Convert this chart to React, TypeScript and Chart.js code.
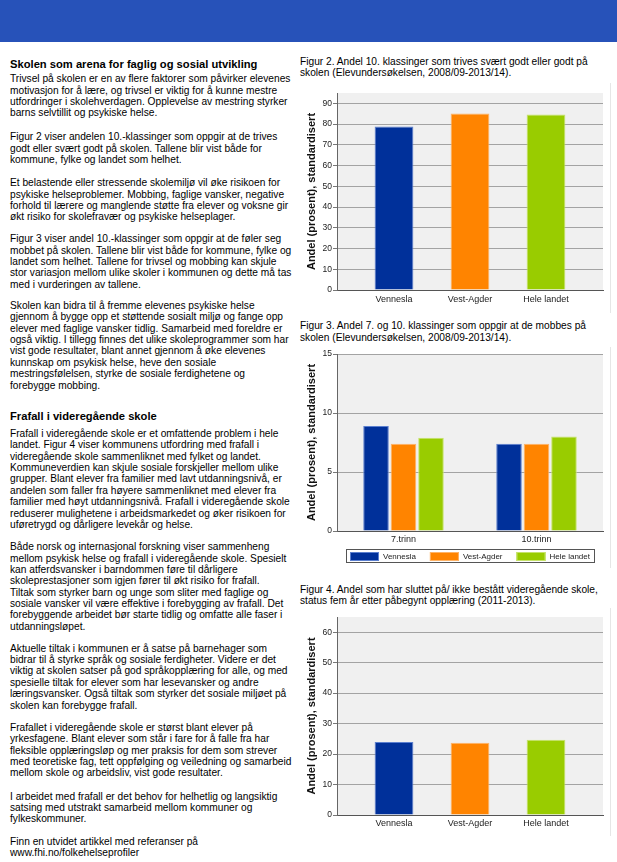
import React, { useEffect, useRef } from "react";
import { Chart, registerables } from "chart.js";

Chart.register(...registerables);

const FONT = '"Liberation Sans", Arial, Helvetica, sans-serif';

// ---------- chart data ----------
const regions = ["Vennesla", "Vest-Agder", "Hele landet"];
const trivsel = [78.8, 85.1, 84.6];
const trinn = ["7.trinn", "10.trinn"];
const mobbingVennesla = [8.9, 7.4];
const mobbingVestAgder = [7.4, 7.4];
const mobbingHeleLandet = [7.9, 8.0];
const frafall = [24.0, 23.7, 24.7];
const yTitle = "Andel (prosent), standardisert";

const fills = ["#00309a", "#ff8400", "#99cc00"];
const edges = ["#5b7fcf", "#ffb366", "#c6e36a"];

// ---------- text ----------
const fig2Caption = [
  "Figur 2. Andel 10. klassinger som trives svært godt eller godt på",
  "skolen (Elevundersøkelsen, 2008/09-2013/14).",
];
const fig3Caption = [
  "Figur 3. Andel 7. og 10. klassinger som oppgir at de mobbes på",
  "skolen (Elevundersøkelsen, 2008/09-2013/14).",
];
const fig4Caption = [
  "Figur 4. Andel som har sluttet på/ ikke bestått videregående skole,",
  "status fem år etter påbegynt opplæring (2011-2013).",
];

const heading1 = "Skolen som arena for faglig og sosial utvikling";
const heading2 = "Frafall i videregående skole";
const p1 = [
  "Trivsel på skolen er en av flere faktorer som påvirker elevenes",
  "motivasjon for å lære, og trivsel er viktig for å kunne mestre",
  "utfordringer i skolehverdagen. Opplevelse av mestring styrker",
  "barns selvtillit og psykiske helse.",
];
const p2 = [
  "Figur 2 viser andelen 10.-klassinger som oppgir at de trives",
  "godt eller svært godt på skolen. Tallene blir vist både for",
  "kommune, fylke og landet som helhet.",
];
const p3 = [
  "Et belastende eller stressende skolemiljø vil øke risikoen for",
  "psykiske helseproblemer. Mobbing, faglige vansker, negative",
  "forhold til lærere og manglende støtte fra elever og voksne gir",
  "økt risiko for skolefravær og psykiske helseplager.",
];
const p4 = [
  "Figur 3 viser andel 10.-klassinger som oppgir at de føler seg",
  "mobbet på skolen. Tallene blir vist både for kommune, fylke og",
  "landet som helhet. Tallene for trivsel og mobbing kan skjule",
  "stor variasjon mellom ulike skoler i kommunen og dette må tas",
  "med i vurderingen av tallene.",
];
const p5 = [
  "Skolen kan bidra til å fremme elevenes psykiske helse",
  "gjennom å bygge opp et støttende sosialt miljø og fange opp",
  "elever med faglige vansker tidlig. Samarbeid med foreldre er",
  "også viktig. I tillegg finnes det ulike skoleprogrammer som har",
  "vist gode resultater, blant annet gjennom å øke elevenes",
  "kunnskap om psykisk helse, heve den sosiale",
  "mestringsfølelsen, styrke de sosiale ferdighetene og",
  "forebygge mobbing.",
];
const p6 = [
  "Frafall i videregående skole er et omfattende problem i hele",
  "landet. Figur 4 viser kommunens utfordring med frafall i",
  "videregående skole sammenliknet med fylket og landet.",
  "Kommuneverdien kan skjule sosiale forskjeller mellom ulike",
  "grupper. Blant elever fra familier med lavt utdanningsnivå, er",
  "andelen som faller fra høyere sammenliknet med elever fra",
  "familier med høyt utdanningsnivå. Frafall i videregående skole",
  "reduserer mulighetene i arbeidsmarkedet og øker risikoen for",
  "uføretrygd og dårligere levekår og helse.",
];
const p7 = [
  "Både norsk og internasjonal forskning viser sammenheng",
  "mellom psykisk helse og frafall i videregående skole. Spesielt",
  "kan atferdsvansker i barndommen føre til dårligere",
  "skoleprestasjoner som igjen fører til økt risiko for frafall.",
  "Tiltak som styrker barn og unge som sliter med faglige og",
  "sosiale vansker vil være effektive i forebygging av frafall. Det",
  "forebyggende arbeidet bør starte tidlig og omfatte alle faser i",
  "utdanningsløpet.",
];
const p8 = [
  "Aktuelle tiltak i kommunen er å satse på barnehager som",
  "bidrar til å styrke språk og sosiale ferdigheter. Videre er det",
  "viktig at skolen satser på god språkopplæring for alle, og med",
  "spesielle tiltak for elever som har lesevansker og andre",
  "læringsvansker. Også tiltak som styrker det sosiale miljøet på",
  "skolen kan forebygge frafall.",
];
const p9 = [
  "Frafallet i videregående skole er størst blant elever på",
  "yrkesfagene. Blant elever som står i fare for å falle fra har",
  "fleksible opplæringsløp og mer praksis for dem som strever",
  "med teoretiske fag, tett oppfølging og veiledning og samarbeid",
  "mellom skole og arbeidsliv, vist gode resultater.",
];
const p10 = [
  "I arbeidet med frafall er det behov for helhetlig og langsiktig",
  "satsing med utstrakt samarbeid mellom kommuner og",
  "fylkeskommuner.",
];
const p11 = [
  "Finn en utvidet artikkel med referanser på",
  "www.fhi.no/folkehelseprofiler",
];

// ---------- plugins ----------
const plotBackground = {
  id: "plotBackground",
  beforeDraw(chart: any) {
    const { ctx, chartArea: a } = chart;
    ctx.save();
    ctx.fillStyle = "#f0f0f0";
    ctx.fillRect(a.left, a.top, a.right - a.left, a.bottom - a.top);
    ctx.restore();
  },
};

const boxedLegend = {
  id: "boxedLegend",
  afterDraw(chart: any) {
    const { ctx, chartArea: a } = chart;
    const items = chart.data.datasets.map((d: any) => ({
      text: d.label,
      fill: d.backgroundColor,
      stroke: d.borderColor,
    }));
    ctx.save();
    ctx.font = `8px ${FONT}`;
    const boxW = 29;
    const boxH = 9;
    const gap = 4;
    const pad = 14;
    const widths = items.map((it: any) => boxW + gap + ctx.measureText(it.text).width);
    const total = widths.reduce((s: number, w: number) => s + w, 0) + pad * (items.length - 1);
    let x = Math.round((a.left + a.right) / 2 - total / 2);
    const top = Math.round(a.bottom + 21);
    ctx.strokeStyle = "#555";
    ctx.lineWidth = 1;
    ctx.strokeRect(x - 4 + 0.5, top - 3 + 0.5, Math.round(total + 8), 13);
    items.forEach((it: any, i: number) => {
      ctx.fillStyle = it.fill;
      ctx.fillRect(x, top, boxW, boxH);
      ctx.strokeStyle = it.stroke;
      ctx.strokeRect(x + 0.5, top + 0.5, boxW - 1, boxH - 1);
      ctx.fillStyle = "#222";
      ctx.textBaseline = "middle";
      ctx.textAlign = "left";
      ctx.fillText(it.text, x + boxW + gap, top + boxH / 2 + 0.5);
      x += widths[i] + pad;
    });
    ctx.restore();
  },
};

// ---------- scale helpers ----------
function yScale(max: number, step: number) {
  return {
    min: 0,
    max,
    ticks: {
      stepSize: step,
      includeBounds: false,
      padding: 1,
      color: "#222",
      font: { family: FONT, size: 8.5 },
    },
    grid: { color: "#a3a3a3", tickColor: "#777", tickLength: 4, lineWidth: 1 },
    border: { display: true, color: "#666", width: 1 },
    title: {
      display: true,
      text: yTitle,
      color: "#111",
      font: { family: FONT, size: 11, weight: "bold" },
      padding: { top: 9, bottom: 0 },
    },
    afterFit: (s: any) => {
      s.width = 41;
    },
  };
}

function regionXScale(height: number, pad: number) {
  return {
    type: "linear",
    min: -0.75,
    max: 2.75,
    offset: false,
    bounds: "data",
    grace: 0,
    afterDataLimits: (s: any) => {
      s.min = -0.75;
      s.max = 2.75;
    },
    afterBuildTicks: (s: any) => {
      s.ticks = regions.map((_, i) => ({ value: i }));
    },
    ticks: {
      callback: (v: any) => regions[v] ?? "",
      padding: pad,
      color: "#222",
      autoSkip: false,
      maxRotation: 0,
      font: { family: FONT, size: 9 },
    },
    grid: { color: "transparent", drawTicks: false, offset: false },
    border: { display: true, color: "#555", width: 1 },
    afterFit: (s: any) => {
      s.height = height;
    },
  };
}

function regionBarConfig(values: number[], max: number, step: number, padTop: number, padBottom: number, xPad: number) {
  return {
    type: "bar",
    data: {
      datasets: [
        {
          label: "Andel",
          data: regions.map((_, i) => ({ x: i, y: values[i] })),
          backgroundColor: fills,
          borderColor: edges,
          borderWidth: 1,
          barPercentage: 0.51,
          categoryPercentage: 1,
        },
      ],
    },
    options: {
      responsive: false,
      animation: false,
      devicePixelRatio: 1,
      layout: { padding: { left: 0, top: padTop, right: 7, bottom: padBottom } },
      plugins: { legend: { display: false }, tooltip: { enabled: false } },
      scales: { x: regionXScale(20, xPad), y: yScale(max, step) },
    },
    plugins: [plotBackground],
  };
}

function fig3Config() {
  const series = [mobbingVennesla, mobbingVestAgder, mobbingHeleLandet];
  return {
    type: "bar",
    data: {
      labels: trinn,
      datasets: series.map((d, i) => ({
        label: regions[i],
        data: d,
        backgroundColor: fills[i],
        borderColor: edges[i],
        borderWidth: 1,
        categoryPercentage: 0.62,
        barPercentage: 0.93,
      })),
    },
    options: {
      responsive: false,
      animation: false,
      devicePixelRatio: 1,
      layout: { padding: { left: 0, top: 7, right: 7, bottom: 0 } },
      plugins: { legend: { display: false }, tooltip: { enabled: false } },
      scales: {
        x: {
          type: "category",
          offset: true,
          ticks: { padding: 3.5, color: "#222", font: { family: FONT, size: 9 } },
          grid: { color: "transparent", drawTicks: false },
          border: { display: true, color: "#555", width: 1 },
          afterFit: (s: any) => {
            s.height = 37;
          },
        },
        y: yScale(15, 5),
      },
    },
    plugins: [plotBackground, boxedLegend],
  };
}

// ---------- components ----------
function ChartCanvas(props: { left: number; top: number; width: number; height: number; build: () => any }) {
  const { left, top, width, height, build } = props;
  const ref = useRef<HTMLCanvasElement | null>(null);
  useEffect(() => {
    const chart = new Chart(ref.current as HTMLCanvasElement, build());
    return () => chart.destroy();
  }, []);
  return (
    <div
      style={{
        position: "absolute",
        left,
        top,
        width,
        height,
        borderRight: "1px solid #e6e6e6",
      }}
    >
      <canvas ref={ref} width={width} height={height} style={{ display: "block", width, height }} />
    </div>
  );
}

function Block(props: { top: number; left: number; lines: string[]; lh?: number; size?: number; bold?: boolean }) {
  const { top, left, lines, lh = 11.35, size = 10.2, bold = false } = props;
  return (
    <div
      style={{
        position: "absolute",
        top,
        left,
        fontSize: size,
        lineHeight: `${lh}px`,
        fontWeight: bold ? "bold" : "normal",
        whiteSpace: "pre",
        color: "#000",
      }}
    >
      {lines.map((l, i) => (
        <div key={i}>{l}</div>
      ))}
    </div>
  );
}

export default function App() {
  return (
    <div
      style={{
        position: "absolute",
        left: 0,
        top: 0,
        width: 617,
        height: 862,
        background: "#fff",
        overflow: "hidden",
        fontFamily: FONT,
      }}
    >
      <div style={{ position: "absolute", left: 0, top: 0, width: 617, height: 42, background: "#2752b9" }} />

      <Block top={57.6} left={10} lines={[heading1]} size={11.2} lh={13} bold />
      <Block top={73.4} left={10} lines={p1} />
      <Block top={131.4} left={10} lines={p2} />
      <Block top={177.4} left={10} lines={p3} />
      <Block top={233.4} left={10} lines={p4} />
      <Block top={300.1} left={10} lines={p5} />
      <Block top={410.3} left={10} lines={[heading2]} size={11.2} lh={13} bold />
      <Block top={428.1} left={10} lines={p6} />
      <Block top={541.4} left={10} lines={p7} />
      <Block top={642.8} left={10} lines={p8} />
      <Block top={722.1} left={10} lines={p9} />
      <Block top={790.8} left={10} lines={p10} />
      <Block top={836.1} left={10} lines={p11} />

      <Block top={55.8} left={300} lines={fig2Caption} lh={11.6} />
      <ChartCanvas left={296} top={83} width={314} height={230} build={() => regionBarConfig(trivsel, 95, 10, 10, 3, 4)} />

      <Block top={319.5} left={300} lines={fig3Caption} lh={12} />
      <ChartCanvas left={296} top={347} width={314} height={221} build={fig3Config} />

      <Block top={584.1} left={300} lines={fig4Caption} lh={11.2} />
      <ChartCanvas left={296} top={608} width={314} height={228} build={() => regionBarConfig(frafall, 65, 10, 9, 1, 3)} />
    </div>
  );
}
